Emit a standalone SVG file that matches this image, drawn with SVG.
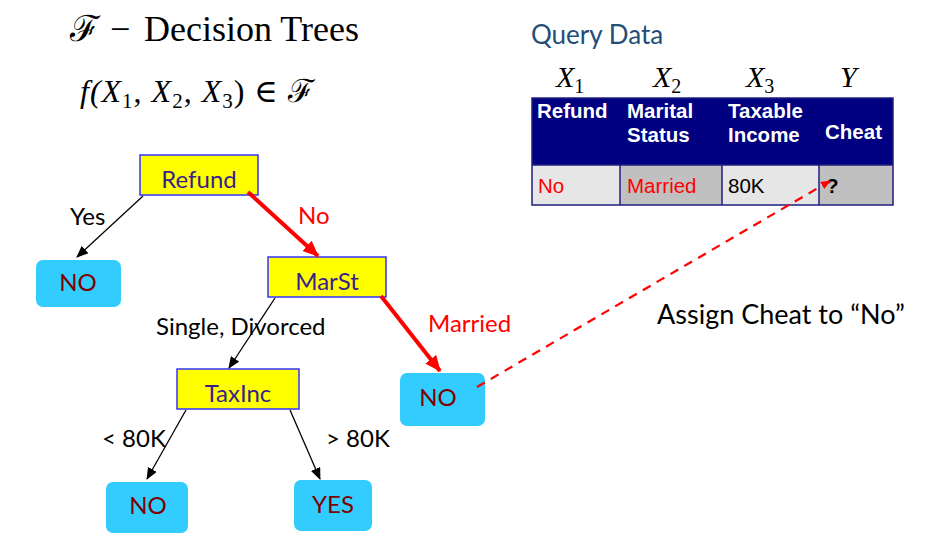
<svg xmlns="http://www.w3.org/2000/svg" width="935" height="556" viewBox="0 0 935 556">
<style>
.math{font-family:"Liberation Serif","DejaVu Serif",serif;fill:#000}
.cal{font-family:Lato,"Open Sans",sans-serif}
.dec{fill:#FFFF00;stroke:#3333FF;stroke-width:1.5}
.leaf{fill:#33CCFF;stroke:none}
.dtxt{font-family:Lato,"Open Sans",sans-serif;font-size:24px;fill:#3A1F8C;text-anchor:middle}
.ltxt{font-family:Lato,"Open Sans",sans-serif;font-size:24px;fill:#7F0000;text-anchor:middle}
.elab{font-family:Lato,"Open Sans",sans-serif;font-size:24px;fill:#000}
.red{fill:#FF0000}
.th{font-family:"Liberation Sans",Arial,sans-serif;font-size:20.5px;font-weight:bold;fill:#FFFFFF}
.td{font-family:"Liberation Sans",Arial,sans-serif;font-size:20.5px}
.blk{stroke:#000;stroke-width:1.3;fill:none}
.rthick{stroke:#FF0000;stroke-width:4;fill:none}
.dash{stroke:#FF0000;stroke-width:2.2;stroke-dasharray:9,7;fill:none}
</style>
<defs>
<marker id="ab" markerUnits="userSpaceOnUse" markerWidth="12" markerHeight="10" refX="11" refY="5" orient="auto"><path d="M0,0 L12,5 L0,10 z" fill="#000"/></marker>
<marker id="ar" markerUnits="userSpaceOnUse" markerWidth="16" markerHeight="14" refX="15" refY="7" orient="auto"><path d="M0,0 L16,7 L0,14 z" fill="#FF0000"/></marker>
<marker id="ad" markerUnits="userSpaceOnUse" markerWidth="10" markerHeight="8" refX="9" refY="4" orient="auto"><path d="M0,0 L10,4 L0,8 z" fill="#FF0000"/></marker>
</defs>
<rect width="935" height="556" fill="#FFFFFF"/>

<!-- title and formula -->
<g class="math" font-size="36">
<text x="70" y="41" font-family="DejaVu Serif,serif" font-size="36">ℱ</text>
<text x="110" y="41">−</text>
<text x="144" y="41">Decision Trees</text>
</g>
<text class="math" x="80" y="102" font-size="32" font-style="italic" letter-spacing="1">f(X<tspan font-size="21" font-style="normal" dy="6">1</tspan><tspan dy="-6" font-style="normal">, </tspan>X<tspan font-size="21" font-style="normal" dy="6">2</tspan><tspan dy="-6" font-style="normal">, </tspan>X<tspan font-size="21" font-style="normal" dy="6">3</tspan><tspan dy="-6" font-style="normal">) ∈ </tspan><tspan font-family="DejaVu Serif,serif" font-size="32" font-style="normal">ℱ</tspan></text>

<!-- query data -->
<g id="query">
<text class="cal" x="531" y="44" font-size="26" fill="#1F4E79">Query Data</text>
<g class="math" font-size="30" font-style="italic">
<text x="556" y="87">X<tspan font-size="20" font-style="normal" dy="6">1</tspan></text>
<text x="653" y="87">X<tspan font-size="20" font-style="normal" dy="6">2</tspan></text>
<text x="746" y="87">X<tspan font-size="20" font-style="normal" dy="6">3</tspan></text>
<text x="840" y="87">Y</text>
</g>
<rect x="532" y="98" width="361" height="67" fill="#000080"/>
<rect x="532" y="165" width="88" height="40" fill="#E6E6E6"/>
<rect x="620" y="165" width="102" height="40" fill="#C0C0C0"/>
<rect x="722" y="165" width="97" height="40" fill="#E6E6E6"/>
<rect x="819" y="165" width="74" height="40" fill="#C0C0C0"/>
<g stroke="#1F1F7F" stroke-width="1.5" fill="none">
<rect x="532" y="98" width="361" height="107"/>
<line x1="532" y1="165" x2="893" y2="165"/>
<line x1="620" y1="165" x2="620" y2="205"/>
<line x1="722" y1="165" x2="722" y2="205"/>
<line x1="819" y1="165" x2="819" y2="205"/>
</g>
<text class="th" x="537" y="118">Refund</text>
<text class="th" x="627" y="118">Marital</text>
<text class="th" x="627" y="142">Status</text>
<text class="th" x="728" y="118">Taxable</text>
<text class="th" x="728" y="142">Income</text>
<text class="th" x="825" y="139">Cheat</text>
<text class="td red" x="538" y="193">No</text>
<text class="td red" x="627" y="193">Married</text>
<text class="td" x="728" y="193" fill="#000">80K</text>
<text class="td" x="826" y="193" fill="#000" font-weight="bold">?</text>
</g>

<!-- nodes -->
<g id="refund"><rect class="dec" x="140" y="155" width="118" height="40"/><text class="dtxt" x="199" y="188">Refund</text></g>
<g id="no1"><rect class="leaf" x="36" y="260" width="85" height="47" rx="7"/><text class="ltxt" x="78" y="291">NO</text></g>
<g id="marst"><rect class="dec" x="268" y="257" width="118" height="40"/><text class="dtxt" x="327" y="290">MarSt</text></g>
<g id="taxinc"><rect class="dec" x="177" y="369" width="122" height="40"/><text class="dtxt" x="238" y="402">TaxInc</text></g>
<g id="no2"><rect class="leaf" x="400" y="373" width="85" height="53" rx="7"/><text class="ltxt" x="438" y="406">NO</text></g>
<g id="no3"><rect class="leaf" x="106" y="482" width="82" height="51" rx="7"/><text class="ltxt" x="148" y="514">NO</text></g>
<g id="yes"><rect class="leaf" x="294" y="480" width="78" height="51" rx="7"/><text class="ltxt" x="333" y="513">YES</text></g>

<!-- connectors -->
<g id="connectors">
<line class="blk" x1="143" y1="196" x2="77" y2="257" marker-end="url(#ab)"/>
<line class="rthick" x1="248" y1="192" x2="318" y2="256" marker-end="url(#ar)"/>
<line class="blk" x1="275" y1="298" x2="229" y2="368" marker-end="url(#ab)"/>
<line class="rthick" x1="381" y1="296" x2="440" y2="371" marker-end="url(#ar)"/>
<line class="blk" x1="186" y1="410" x2="147" y2="479" marker-end="url(#ab)"/>
<line class="blk" x1="290" y1="410" x2="320" y2="479" marker-end="url(#ab)"/>
<line class="dash" x1="477" y1="387" x2="830" y2="181" marker-end="url(#ad)"/>
<text class="elab" x="70" y="225">Yes</text>
<text class="elab red" x="298" y="224">No</text>
<text class="elab" x="156" y="335">Single, Divorced</text>
<text class="elab red" x="428" y="332">Married</text>
<text class="elab" x="102" y="447">&lt; 80K</text>
<text class="elab" x="326" y="447">&gt; 80K</text>
</g>

<text class="cal" x="657" y="324" font-size="27" fill="#000">Assign Cheat to “No”</text>
</svg>
